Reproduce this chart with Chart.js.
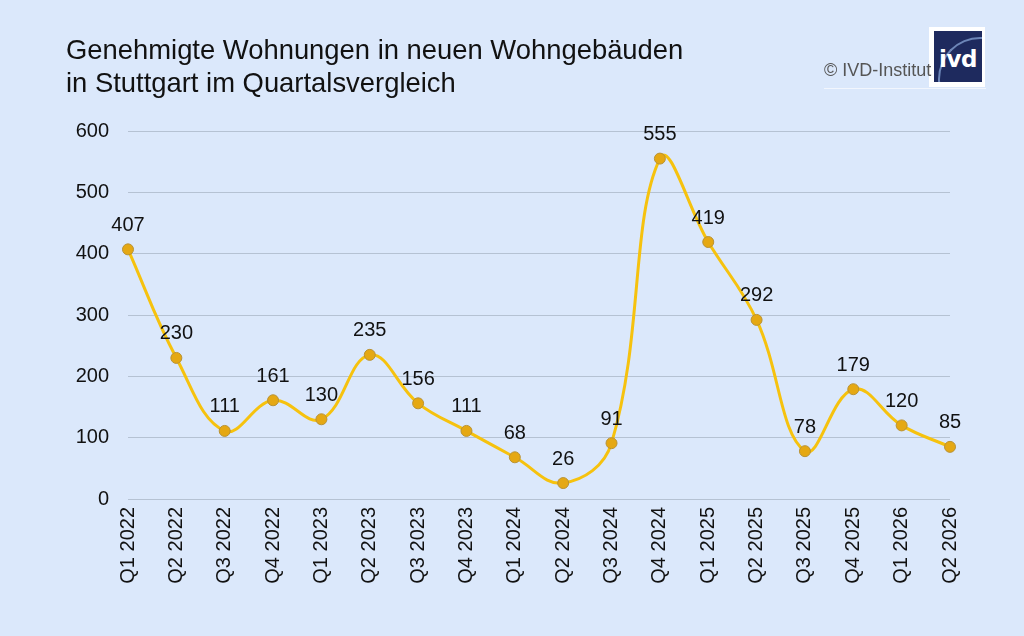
<!DOCTYPE html>
<html>
<head>
<meta charset="utf-8">
<script src="https://cdn.jsdelivr.net/npm/chart.js@4.4.1/dist/chart.umd.min.js"></script>
<style>
  html, body { margin:0; padding:0; background:#DBE8FB; }
  #wrap { position:relative; width:1024px; height:636px; overflow:hidden; background:#DBE8FB; font-family:"Liberation Sans", Arial, sans-serif; }
  #c { position:absolute; left:0; top:0; }
  .title { position:absolute; left:66px; color:#111; font-size:27.4px; white-space:nowrap; line-height:1; }
  #copy { position:absolute; left:824px; top:61px; font-size:18px; color:#555; white-space:nowrap; line-height:1; z-index:2; }
  #uline { position:absolute; left:824px; top:88px; width:162px; height:1px; background:#F2F6FD; }
  #logo { position:absolute; left:929px; top:27px; width:56px; height:60px; background:#FFFFFF; }
  #logoin { position:absolute; left:5px; top:4px; width:48px; height:51px; background:#1E2A5E; overflow:hidden; }
  #arc { position:absolute; left:4px; top:6px; width:80px; height:80px; border-radius:50%; border:2px solid #6D86B8; border-color:#6D86B8 transparent transparent #6D86B8; }
  #ivd { position:absolute; left:0px; top:17px; width:48px; text-align:center; color:#fff; font-weight:bold; font-size:23px; font-family:"DejaVu Sans", sans-serif; letter-spacing:-0.5px; line-height:1; }
</style>
</head>
<body>
<div id="wrap">
  <canvas id="c" width="1024" height="636"></canvas>
  <div class="title" style="top:36px;">Genehmigte Wohnungen in neuen Wohngebäuden</div>
  <div class="title" style="top:69px;">in Stuttgart im Quartalsvergleich</div>
  <div id="uline"></div>
  <div id="logo"><div id="logoin"><div id="arc"></div><div id="ivd">ivd</div></div></div>
  <div id="copy">© IVD-Institut</div>
</div>
<script>
const quarters = ["Q1 2022","Q2 2022","Q3 2022","Q4 2022","Q1 2023","Q2 2023","Q3 2023","Q4 2023","Q1 2024","Q2 2024","Q3 2024","Q4 2024","Q1 2025","Q2 2025","Q3 2025","Q4 2025","Q1 2026","Q2 2026"];
const approvals = [407,230,111,161,130,235,156,111,68,26,91,555,419,292,78,179,120,85];
const yTicks = [0,100,200,300,400,500,600];

const FONT = '"Liberation Sans", Arial, sans-serif';

const valueLabels = {
  id: 'valueLabels',
  afterDatasetsDraw(chart) {
    const ctx = chart.ctx;
    const meta = chart.getDatasetMeta(0);
    const data = chart.data.datasets[0].data;
    ctx.save();
    ctx.font = '20px ' + FONT;
    ctx.fillStyle = '#111';
    ctx.textAlign = 'center';
    ctx.textBaseline = 'middle';
    meta.data.forEach((pt, i) => {
      ctx.fillText(String(data[i]), pt.x, pt.y - 24);
    });
    ctx.restore();
  }
};

new Chart(document.getElementById('c'), {
  type: 'line',
  data: {
    labels: quarters,
    datasets: [{
      data: approvals,
      borderColor: '#F6C20E',
      borderWidth: 3,
      tension: 0.4,
      fill: false,
      pointRadius: 5.5,
      pointBackgroundColor: '#E5A813',
      pointBorderColor: '#B89235',
      pointBorderWidth: 1,
      pointHoverRadius: 5.5
    }]
  },
  options: {
    responsive: false,
    animation: false,
    events: [],
    layout: { padding: { left: 0, right: 74, top: 131, bottom: 0 } },
    plugins: { legend: { display: false }, title: { display: false }, tooltip: { enabled: false } },
    scales: {
      x: {
        offset: false,
        grid: { display: false, drawTicks: false },
        border: { display: false },
        ticks: {
          minRotation: 90, maxRotation: 90, autoSkip: false,
          padding: 8,
          color: '#111',
          font: { family: FONT, size: 20 }
        },
        afterFit(scale) { scale.height = 137; }
      },
      y: {
        min: 0, max: 600,
        afterBuildTicks(scale) { scale.ticks = yTicks.map(v => ({ value: v })); },
        grid: { color: '#B5C2D3', lineWidth: 1, drawTicks: false },
        border: { display: false },
        ticks: {
          padding: 19,
          color: '#111',
          font: { family: FONT, size: 20 }
        },
        afterFit(scale) { scale.width = 128; }
      }
    }
  },
  plugins: [valueLabels]
});
</script>
</body>
</html>
